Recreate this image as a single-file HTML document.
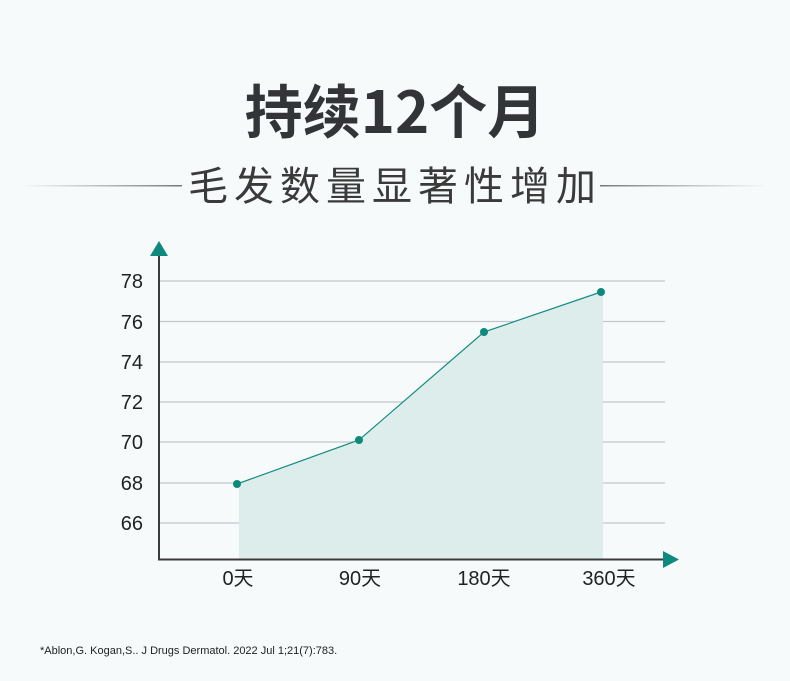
<!DOCTYPE html>
<html><head><meta charset="utf-8"><style>
body{margin:0;width:790px;height:676px;background:#f6fafb;overflow:hidden;font-family:"Liberation Sans","Noto Sans CJK SC",sans-serif;}
</style></head><body>
<svg width="790" height="676" viewBox="0 0 790 676" xmlns="http://www.w3.org/2000/svg">
<defs>
<linearGradient id="gl" x1="0" x2="1"><stop offset="0" stop-color="#888" stop-opacity="0"/><stop offset="1" stop-color="#777"/></linearGradient>
<linearGradient id="gr" x1="0" x2="1"><stop offset="0" stop-color="#777"/><stop offset="1" stop-color="#888" stop-opacity="0"/></linearGradient>
</defs>
<text x="395" y="133" text-anchor="middle" font-family="Noto Sans CJK SC, sans-serif" font-weight="bold" font-size="58" fill="#333438">持续12个月</text>
<text x="395" y="200" text-anchor="middle" font-family="Noto Sans CJK SC, sans-serif" font-size="40" letter-spacing="6" fill="#3a3a3a">毛发数量显著性增加</text>
<rect x="20" y="185" width="162" height="1.5" fill="url(#gl)"/>
<rect x="600" y="185" width="168" height="1.5" fill="url(#gr)"/>
<g stroke="#c4c7c9" stroke-width="1.3">
<line x1="160" x2="665" y1="281" y2="281"/><line x1="160" x2="665" y1="321.5" y2="321.5"/>
<line x1="160" x2="665" y1="362" y2="362"/><line x1="160" x2="665" y1="402" y2="402"/>
<line x1="160" x2="665" y1="442" y2="442"/><line x1="160" x2="665" y1="483" y2="483"/>
<line x1="160" x2="665" y1="523" y2="523"/>
</g>
<polygon points="239,483 359,440 484,332 603,292 603,560 239,560" fill="#dcedeb"/>
<polyline points="237,484 359,440 484,332 601,292" fill="none" stroke="#148c80" stroke-width="1.2"/>
<g fill="#0e8a7c"><circle cx="237" cy="484" r="4"/><circle cx="359" cy="440" r="4"/><circle cx="484" cy="332" r="4"/><circle cx="601" cy="292" r="4"/></g>
<line x1="159" y1="250" x2="159" y2="560" stroke="#3b3b3b" stroke-width="2"/>
<line x1="158" y1="559.5" x2="665" y2="559.5" stroke="#3b3b3b" stroke-width="2"/>
<polygon points="150,256 159,241 168,256" fill="#0e8a7c"/>
<polygon points="663,551 679,559.5 663,568" fill="#0e8a7c"/>
<g font-size="20" fill="#222" text-anchor="end">
<text x="143" y="288">78</text><text x="143" y="329">76</text><text x="143" y="369">74</text>
<text x="143" y="409">72</text><text x="143" y="449">70</text><text x="143" y="490">68</text><text x="143" y="530">66</text>
</g>
<g font-size="20" fill="#222" text-anchor="middle" font-family="Liberation Sans, Noto Sans CJK SC, sans-serif">
<text x="238" y="585">0天</text><text x="360" y="585">90天</text><text x="484" y="585">180天</text><text x="609" y="585">360天</text>
</g>
<text x="40" y="654" font-size="11" fill="#222">*Ablon,G. Kogan,S.. J Drugs Dermatol. 2022 Jul 1;21(7):783.</text>
</svg>
</body></html>
